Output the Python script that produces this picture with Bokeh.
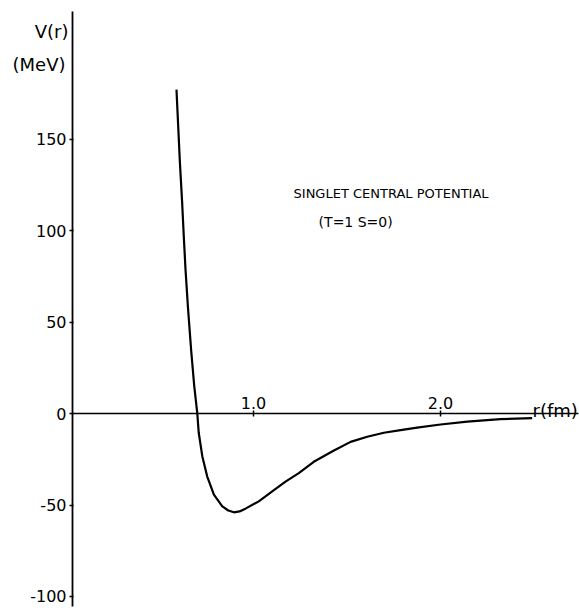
from bokeh.plotting import figure
from bokeh.models import FixedTicker, Label
from bokeh.embed import file_html
from bokeh.resources import INLINE

# Radius (fm) and potential (MeV)
r_fm = [0.588, 0.606, 0.618, 0.627, 0.636, 0.650, 0.667, 0.683, 0.699, 0.707,
        0.726, 0.752, 0.788, 0.833, 0.865, 0.895, 0.925, 0.957, 1.028, 1.100,
        1.171, 1.242, 1.322, 1.430, 1.519, 1.608, 1.697, 1.786, 1.875, 2.000,
        2.143, 2.320, 2.490]
v_mev = [177.0, 137.7, 115.8, 97.0, 79.2, 57.0, 33.9, 15.0, 0.4, -10.5,
         -23.3, -34.3, -44.3, -50.7, -53.0, -54.0, -53.5, -52.0, -48.0, -42.5,
         -37.2, -32.6, -26.4, -20.2, -15.5, -12.7, -10.5, -9.1, -7.7, -6.0,
         -4.4, -3.1, -2.5]

y_ticks = [-100, -50, 0, 50, 100, 150]
y_tick_labels = ["-100", "-50", "0", "50", "100", "150"]
x_ticks = [1.0, 2.0]
x_tick_labels = ["1.0", "2.0"]

title_text = "SINGLET CENTRAL POTENTIAL"
subtitle_text = "(T=1 S=0)"

FONT = "DejaVu Sans"

p = figure(width=579, height=611,
           x_range=(-0.353, 2.743), y_range=(-108.2, 225.7),
           output_backend="svg", toolbar_location=None,
           x_axis_location="below", y_axis_location="left",
           min_border_left=0, min_border_right=0,
           min_border_top=0, min_border_bottom=0)

p.outline_line_color = None
p.xgrid.visible = False
p.ygrid.visible = False
p.background_fill_color = "white"
p.border_fill_color = "white"

# x axis: drawn along V = 0, tick labels above the line
p.xaxis.visible = False
from bokeh.models import LinearAxis
xa = LinearAxis()
p.add_layout(xa, "above")
xa.fixed_location = 0
xa.bounds = (0.032, 2.735)
xa.ticker = FixedTicker(ticks=x_ticks)
xa.major_label_overrides = {t: l for t, l in zip(x_ticks, x_tick_labels)}
xa.major_tick_out = 3
xa.major_tick_in = 3
xa.minor_tick_out = 0
xa.minor_tick_in = 0
xa.axis_line_width = 1.5
xa.major_tick_line_width = 1.5
xa.major_label_standoff = 2
xa.major_label_text_font = FONT
xa.major_label_text_font_size = "16px"
xa.major_label_text_color = "black"

# y axis: vertical line near r = 0
ya = p.yaxis[0]
ya.fixed_location = 0.032
ya.bounds = (-105.5, 219.7)
ya.ticker = FixedTicker(ticks=y_ticks)
ya.major_label_overrides = {t: l for t, l in zip(y_ticks, y_tick_labels)}
ya.major_tick_out = 3
ya.major_tick_in = 1
ya.minor_tick_out = 0
ya.minor_tick_in = 0
ya.axis_line_width = 1.8
ya.major_tick_line_width = 1.5
ya.major_label_standoff = 3
ya.major_label_text_font = FONT
ya.major_label_text_font_size = "16px"
ya.major_label_text_color = "black"

p.line(r_fm, v_mev, line_color="black", line_width=2.2)

def lab(x, y, text, size, align="left", baseline="middle"):
    p.add_layout(Label(x=x, y=y, text=text, text_font=FONT,
                       text_font_size=size, text_align=align,
                       text_baseline=baseline, text_color="black"))

lab(0.0107, 208.7, "V(r)", "18px", align="right")
lab(-0.0053, 190.7, "(MeV)", "18px", align="right")
lab(2.492, 1.6, "r(fm)", "18px", align="left", baseline="alphabetic")
lab(1.214, 120.2, title_text, "13px")
lab(1.348, 104.9, subtitle_text, "14px")

open("out.html", "w").write(file_html(p, INLINE))
